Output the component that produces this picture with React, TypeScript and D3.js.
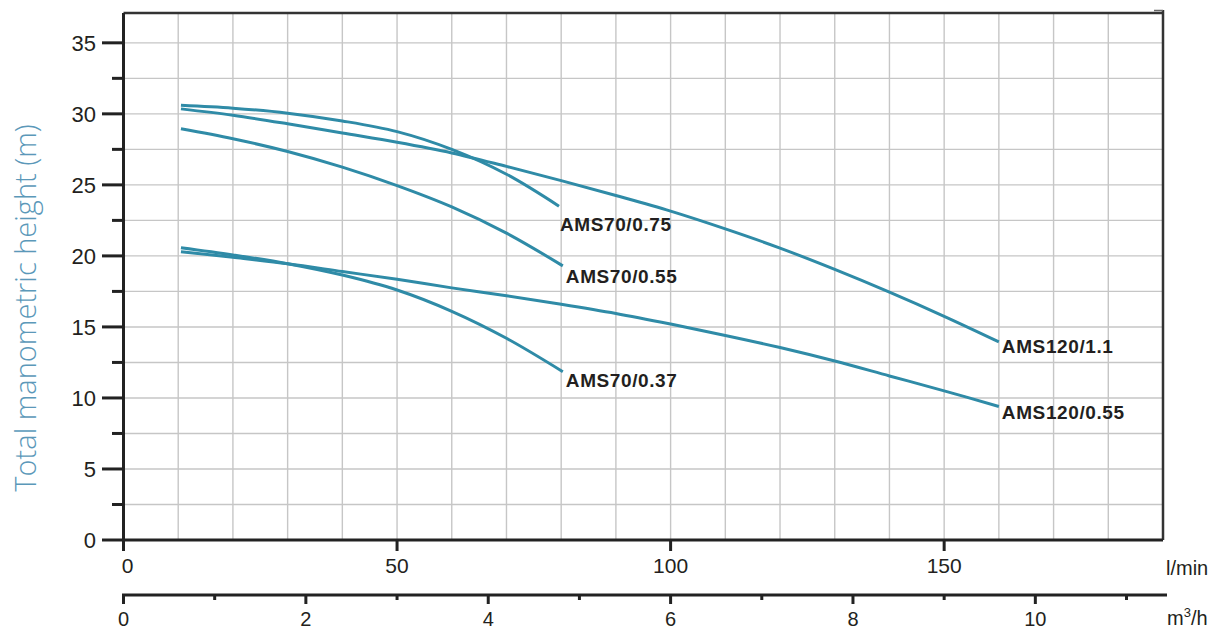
import React, { useEffect, useRef } from "react";
import * as d3 from "d3";

// flow in l/min, head in m
const ams70_075_q = [10.5, 20, 30, 40, 50, 60, 70, 79.6];
const ams70_075_h = [30.6, 30.4, 30.05, 29.5, 28.75, 27.5, 25.75, 23.5];

const ams70_055_q = [10.5, 20, 30, 40, 50, 60, 70, 80.3];
const ams70_055_h = [28.95, 28.25, 27.35, 26.25, 24.95, 23.45, 21.6, 19.3];

const ams70_037_q = [10.5, 20, 30, 40, 50, 60, 70, 80.3];
const ams70_037_h = [20.58, 20.07, 19.45, 18.65, 17.6, 16.1, 14.2, 11.85];

const ams120_11_q = [10.5, 20, 30, 40, 50, 60, 70, 80, 90, 100, 110, 120, 130, 140, 150, 160];
const ams120_11_h = [30.35, 29.9, 29.3, 28.65, 28.0, 27.25, 26.3, 25.3, 24.25, 23.15, 21.9, 20.55, 19.05, 17.45, 15.75, 13.95];

const ams120_055_q = [10.5, 20, 30, 40, 50, 60, 70, 80, 90, 100, 110, 120, 130, 140, 150, 160];
const ams120_055_h = [20.3, 19.9, 19.45, 18.9, 18.35, 17.75, 17.2, 16.6, 15.95, 15.2, 14.4, 13.55, 12.6, 11.55, 10.5, 9.4];

const seriesNames = ["AMS70/0.75", "AMS70/0.55", "AMS70/0.37", "AMS120/1.1", "AMS120/0.55"];
const seriesQ = [ams70_075_q, ams70_055_q, ams70_037_q, ams120_11_q, ams120_055_q];
const seriesH = [ams70_075_h, ams70_055_h, ams70_037_h, ams120_11_h, ams120_055_h];
// label offset from the end of each curve (px)
const labelOffsets = [
  [1, 25],
  [3, 17],
  [3, 15],
  [3, 11],
  [3, 13],
];

const yTicks = [0, 5, 10, 15, 20, 25, 30, 35];
const xTicks = [0, 50, 100, 150];
const m3Ticks = [0, 2, 4, 6, 8, 10];

const W = 1218;
const H = 630;

export default function App() {
  const ref = useRef<SVGSVGElement | null>(null);

  useEffect(() => {
    const svg = d3.select(ref.current);
    svg.selectAll("*").remove();

    const x = d3.scaleLinear().domain([0, 190]).range([123.5, 1163]);
    const y = d3.scaleLinear().domain([0, 37.1]).range([540, 13]);
    const xm = d3.scaleLinear().domain([0, 11.4]).range([123.5, 1163]);

    const grid = svg.append("g").attr("stroke", "#c6c6c6").attr("stroke-width", 1.4);
    d3.range(10, 190, 10).forEach((v) => {
      grid.append("line").attr("x1", x(v)).attr("x2", x(v)).attr("y1", y(37.1)).attr("y2", y(0));
    });
    d3.range(2.5, 37, 2.5).forEach((v) => {
      grid.append("line").attr("x1", x(0)).attr("x2", x(190)).attr("y1", y(v)).attr("y2", y(v));
    });

    // frame
    const frame = svg.append("g").attr("stroke", "#333").attr("fill", "none");
    frame.append("line").attr("x1", x(0)).attr("x2", x(190)).attr("y1", y(37.1)).attr("y2", y(37.1)).attr("stroke-width", 2.5);
    frame.append("line").attr("x1", x(190)).attr("x2", x(190)).attr("y1", 10).attr("y2", y(0)).attr("stroke-width", 2.5);
    frame.append("line").attr("x1", x(190) - 9).attr("x2", x(190)).attr("y1", 10.5).attr("y2", 10.5).attr("stroke-width", 1.5).attr("stroke", "#666");
    frame.append("line").attr("x1", x(0)).attr("x2", x(0)).attr("y1", y(37.1)).attr("y2", y(0) + 1.5).attr("stroke-width", 3).attr("stroke", "#222");
    frame.append("line").attr("x1", x(0)).attr("x2", x(190)).attr("y1", y(0)).attr("y2", y(0)).attr("stroke-width", 3).attr("stroke", "#222");

    // y axis ticks
    const yAx = svg.append("g");
    d3.range(0, 37, 2.5).forEach((v) => {
      const major = v % 5 === 0;
      yAx.append("line")
        .attr("x1", major ? 102 : 112)
        .attr("x2", x(0))
        .attr("y1", y(v))
        .attr("y2", y(v))
        .attr("stroke", "#222")
        .attr("stroke-width", 3);
    });
    yAx.selectAll("text")
      .data(yTicks)
      .join("text")
      .attr("x", 96)
      .attr("y", (d) => y(d) + 8)
      .attr("text-anchor", "end")
      .attr("font-family", "'Liberation Sans', Arial, sans-serif")
      .attr("font-size", 22)
      .attr("fill", "#231f20")
      .text((d) => d);

    // l/min axis
    const xAx = svg.append("g");
    xTicks.forEach((v) => {
      xAx.append("line").attr("x1", x(v)).attr("x2", x(v)).attr("y1", y(0)).attr("y2", 551).attr("stroke", "#222").attr("stroke-width", 3);
    });
    xAx.selectAll("text")
      .data(xTicks)
      .join("text")
      .attr("x", (d) => x(d) + (d === 0 ? 4 : 0))
      .attr("y", 573)
      .attr("text-anchor", "middle")
      .attr("font-family", "'Liberation Sans', Arial, sans-serif")
      .attr("font-size", 21)
      .attr("fill", "#231f20")
      .text((d) => d);
    xAx.append("text")
      .attr("x", 1166)
      .attr("y", 575)
      .attr("font-family", "'Liberation Sans', Arial, sans-serif")
      .attr("font-size", 20)
      .attr("fill", "#231f20")
      .text("l/min");

    // m3/h axis
    const mAx = svg.append("g");
    mAx.append("line").attr("x1", xm(0) - 1.5).attr("x2", 1167).attr("y1", 595).attr("y2", 595).attr("stroke", "#222").attr("stroke-width", 3);
    d3.range(0, 12, 1).forEach((v) => {
      mAx.append("line")
        .attr("x1", xm(v))
        .attr("x2", xm(v))
        .attr("y1", 595)
        .attr("y2", v % 2 === 0 ? 604 : 600)
        .attr("stroke", "#222")
        .attr("stroke-width", 3);
    });
    mAx.selectAll("text.m")
      .data(m3Ticks)
      .join("text")
      .attr("class", "m")
      .attr("x", (d) => xm(d))
      .attr("y", 626)
      .attr("text-anchor", "middle")
      .attr("font-family", "'Liberation Sans', Arial, sans-serif")
      .attr("font-size", 20)
      .attr("fill", "#231f20")
      .text((d) => d);
    const mLabel = mAx.append("text")
      .attr("x", 1167)
      .attr("y", 625)
      .attr("font-family", "'Liberation Sans', Arial, sans-serif")
      .attr("font-size", 20)
      .attr("fill", "#231f20");
    mLabel.append("tspan").text("m");
    mLabel.append("tspan").attr("font-size", 13).attr("dy", -8).text("3");
    mLabel.append("tspan").attr("dy", 8).text("/h");

    // y title
    svg.append("text")
      .attr("transform", `translate(36,308) rotate(-90)`)
      .attr("text-anchor", "middle")
      .attr("font-family", "'Open Sans', sans-serif")
      .attr("font-weight", 300)
      .attr("font-size", 29)
      .attr("fill", "#5b98b9")
      .text("Total manometric height (m)");

    // curves
    const line = d3
      .line<[number, number]>()
      .x((d) => x(d[0]))
      .y((d) => y(d[1]))
      .curve(d3.curveCatmullRom.alpha(0.5));

    const curves = svg.append("g");
    seriesNames.forEach((name, i) => {
      const pts: [number, number][] = seriesQ[i].map((q, j) => [q, seriesH[i][j]]);
      curves.append("path")
        .attr("d", line(pts))
        .attr("fill", "none")
        .attr("stroke", "#2f8ba7")
        .attr("stroke-width", 3)
        .attr("stroke-linecap", "butt");
      const last = pts[pts.length - 1];
      curves.append("text")
        .attr("x", x(last[0]) + labelOffsets[i][0])
        .attr("y", y(last[1]) + labelOffsets[i][1])
        .attr("font-family", "'Liberation Sans', Arial, sans-serif")
        .attr("font-weight", "bold")
        .attr("font-size", 19)
        .attr("letter-spacing", 0.6)
        .attr("fill", "#231f20")
        .text(name);
    });
  }, []);

  return (
    <div style={{ position: "absolute", left: 0, top: 0 }}>
      <svg ref={ref} width={W} height={H} style={{ display: "block", background: "#fff" }}></svg>
    </div>
  );
}
